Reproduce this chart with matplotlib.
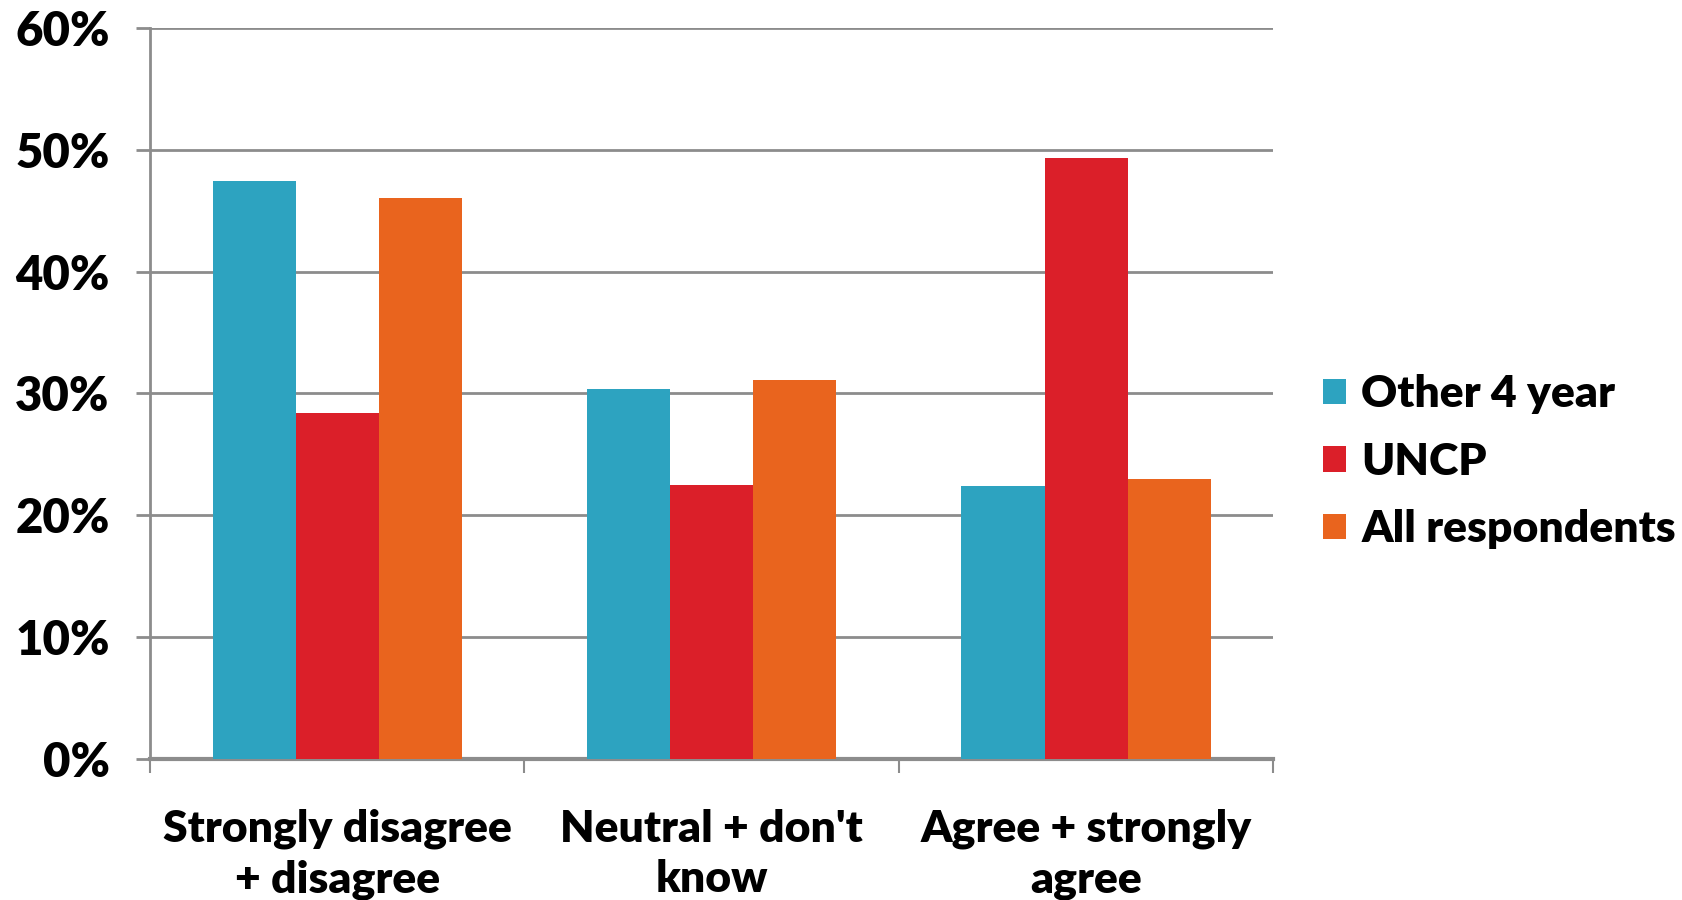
import matplotlib
matplotlib.use("Agg")
import matplotlib.pyplot as plt
import numpy as np
from matplotlib.ticker import FuncFormatter

categories = ["Strongly disagree\n+ disagree", "Neutral + don't\nknow", "Agree + strongly\nagree"]
series_names = ["Other 4 year", "UNCP", "All respondents"]
other_4_year = [47.4, 30.4, 22.4]
uncp = [28.4, 22.5, 49.3]
all_respondents = [46.0, 31.1, 23.0]
y_ticks = [0, 10, 20, 30, 40, 50, 60]

colors = ["#2DA3C0", "#DB1F29", "#E9641E"]
grid_color = "#8C8C8C"

plt.rcParams["font.family"] = ["Lato", "DejaVu Sans"]
plt.rcParams["font.weight"] = "heavy"

fig = plt.figure(figsize=(16.82, 9.0), dpi=100)
ax = fig.add_axes([0.0892, 0.1567, 0.757 - 0.0892, 0.969 - 0.1567])

x = np.arange(len(categories))
width = 0.222
for i, (vals, name, col) in enumerate(zip([other_4_year, uncp, all_respondents], series_names, colors)):
    ax.bar(x + (i - 1) * width, vals, width, color=col, label=name, zorder=3)

ax.set_xlim(-0.5, len(categories) - 0.5)
ax.set_ylim(0, 60)
ax.set_yticks(y_ticks)
ax.yaxis.set_major_formatter(FuncFormatter(lambda v, _: f"{v:.0f}%"))
ax.yaxis.grid(True, color=grid_color, linewidth=2, zorder=0)
ax.set_axisbelow(True)

ax.set_xticks(np.arange(len(categories) + 1) - 0.5, minor=False)
ax.set_xticklabels([])
ax.set_xticks(x, minor=True)
ax.set_xticklabels(categories, minor=True, fontsize=32, fontweight="heavy", linespacing=1.3)
ax.tick_params(axis="x", which="minor", length=0, pad=36)
ax.tick_params(axis="x", which="major", length=10, width=1.5, color=grid_color)
ax.tick_params(axis="y", length=10, width=2, color=grid_color, labelsize=34, pad=19)
for lbl in ax.get_yticklabels():
    lbl.set_fontweight("heavy")

for s in ["top", "right"]:
    ax.spines[s].set_visible(False)
ax.spines["left"].set_color(grid_color)
ax.spines["left"].set_linewidth(2)
ax.spines["bottom"].set_color(grid_color)
ax.spines["bottom"].set_linewidth(3)

leg = fig.legend(loc="center left", bbox_to_anchor=(0.763, 0.487), frameon=False,
                 handlelength=0.5, handleheight=0.5, handletextpad=0.35,
                 labelspacing=0.62, prop={"weight": "heavy", "size": 32})

fig.savefig("out.png", dpi=100, facecolor="white")
